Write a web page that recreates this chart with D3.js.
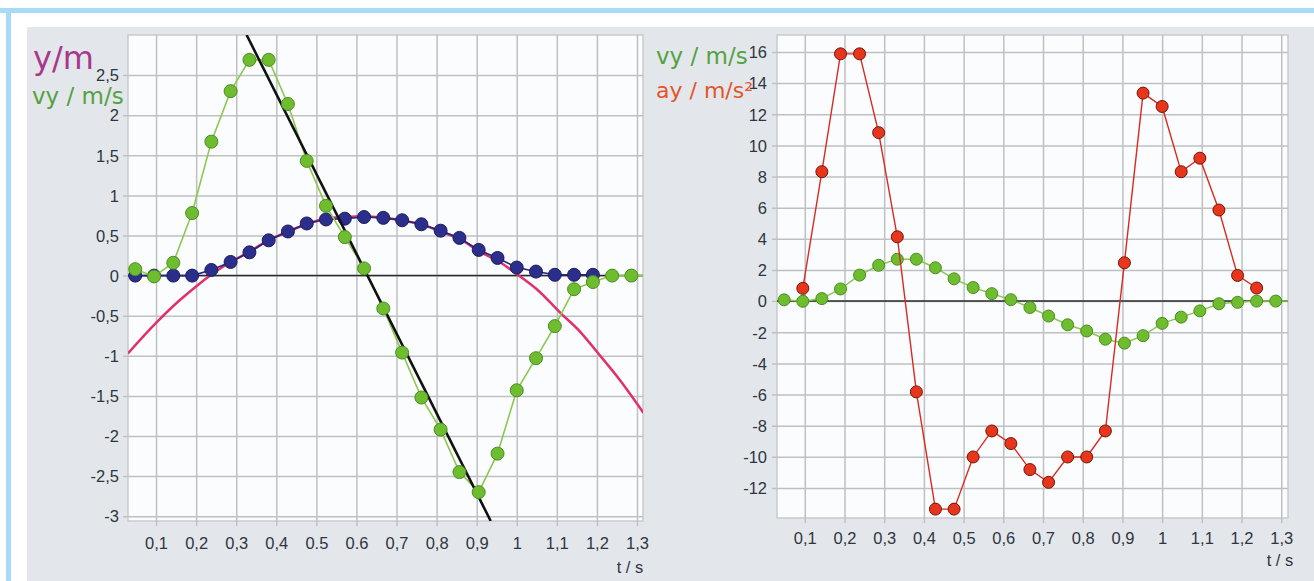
<!DOCTYPE html>
<html lang="de">
<head>
<meta charset="UTF-8">
<title>Ball: y, vy, ay</title>
<script src="https://d3js.org/d3.v7.min.js"></script>
<style>
    body { margin: 0; background: #fff; }
    svg { display: block; }
    .tick text { font-family: "Liberation Sans", Arial, sans-serif; font-size: 16.5px; fill: #2f3540; }
    .title { font-family: "DejaVu Sans", Verdana, sans-serif; }
</style>
</head>
<body>
<script>
// frame times (s) of the measured points
var times = [0.048, 0.095, 0.143, 0.190, 0.238, 0.286, 0.333, 0.381, 0.429, 0.476,
             0.524, 0.571, 0.619, 0.667, 0.714, 0.762, 0.810, 0.857, 0.905, 0.952,
             1.000, 1.048, 1.095, 1.143, 1.190, 1.238, 1.286, 1.333];

// vy / m/s (green, both charts)
var vyValues = [0.08, -0.01, 0.16, 0.78, 1.67, 2.30, 2.69, 2.69, 2.14, 1.43,
                0.87, 0.48, 0.09, -0.41, -0.96, -1.52, -1.92, -2.45, -2.70, -2.22,
                -1.43, -1.03, -0.63, -0.17, -0.08, 0.0, 0.0, 0.0];

// y / m (blue points, left chart)
var yValues = [0, 0, 0, 0, 0.07, 0.17, 0.29, 0.44, 0.55, 0.65,
               0.70, 0.71, 0.73, 0.72, 0.69, 0.64, 0.56, 0.47, 0.32, 0.22,
               0.10, 0.05, 0.01, 0.01, 0.01, null, null, null];

// ay / m/s² (red, right chart)
var ayValues = [null, 0.82, 8.31, 15.88, 15.88, 10.82, 4.13, -5.83, -13.36, -13.36,
                -10.01, -8.34, -9.15, -10.82, -11.64, -10.01, -10.01, -8.34, 2.46, 13.36,
                12.50, 8.31, 9.18, 5.85, 1.65, 0.84, null, null];

// parabola fit of y (pink)
var fitT = [0.03, 0.10, 0.156, 0.20, 0.235, 0.27, 0.33, 0.38, 0.43, 0.48, 0.52, 0.57, 0.62,
            0.67, 0.71, 0.76, 0.81, 0.86, 0.90, 0.96, 1.00, 1.05, 1.11, 1.16, 1.20, 1.26, 1.316];
var fitY = [-0.97, -0.59, -0.32, -0.135, 0.0, 0.12, 0.29, 0.44, 0.55, 0.65, 0.71, 0.73, 0.74,
            0.72, 0.69, 0.64, 0.55, 0.45, 0.32, 0.16, 0.02, -0.17, -0.47, -0.71, -0.95, -1.32, -1.71];

// straight fit of vy (black)
var lineT = [0.326, 0.935];
var lineV = [3.0, -3.06];

var xTicks = [0.1, 0.2, 0.3, 0.4, 0.5, 0.6, 0.7, 0.8, 0.9, 1.0, 1.1, 1.2, 1.3];
var leftXLabels = ["0,1", "0,2", "0,3", "0,4", "0.5", "0.6", "0,7", "0,8", "0,9", "1", "1,1", "1,2", "1,3"];
var rightXLabels = ["0,1", "0,2", "0,3", "0,4", "0,5", "0,6", "0,7", "0,8", "0,9", "1", "1,1", "1,2", "1,3"];

var leftYTicks = [2.5, 2, 1.5, 1, 0.5, 0, -0.5, -1, -1.5, -2, -2.5, -3];
var leftYLabels = ["2,5", "2", "1,5", "1", "0,5", "0", "-0,5", "-1", "-1,5", "-2", "-2,5", "-3"];
var rightYTicks = [16, 14, 12, 10, 8, 6, 4, 2, 0, -2, -4, -6, -8, -10, -12];
var rightYLabels = ["16", "14", "12", "10", "8", "6", "4", "2", "0", "-2", "-4", "-6", "-8", "-10", "-12"];

var width = 1314, height = 581;

var svg = d3.select("body").append("svg")
    .attr("width", width)
    .attr("height", height);

// page frame
svg.append("rect").attr("width", width).attr("height", height).attr("fill", "#fff");
svg.append("rect").attr("x", 0).attr("y", 8).attr("width", width).attr("height", 5).attr("fill", "#a8dcf6");
svg.append("rect").attr("x", 6).attr("y", 8).attr("width", 5).attr("height", height - 8).attr("fill", "#a8dcf6");
svg.append("rect").attr("x", 27).attr("y", 27).attr("width", width - 27).attr("height", height - 27).attr("fill", "#e3e7eb");

// builds one plot area with grid and axes, returns scales and a clipped group
function makePlot(p) {
    var x = d3.scaleLinear().domain(p.xDomain).range([p.left, p.right]);
    var y = d3.scaleLinear().domain(p.yDomain).range([p.bottom, p.top]);
    var h = p.bottom - p.top, w = p.right - p.left;

    svg.append("rect")
        .attr("x", p.left).attr("y", p.top)
        .attr("width", w).attr("height", h)
        .attr("fill", "#fbfcfd")
        .attr("stroke", "#c9cbce").attr("stroke-width", 1.5);

    var xAxis = svg.append("g")
        .attr("transform", "translate(0," + p.bottom + ")")
        .call(d3.axisBottom(x).tickValues(xTicks)
            .tickFormat(function (d, i) { return p.xLabels[i]; })
            .tickSize(-h).tickSizeOuter(0));
    xAxis.select(".domain").remove();
    xAxis.selectAll("line").attr("y1", 5).attr("stroke", "#bfc0c2").attr("stroke-width", 1.5);
    xAxis.selectAll("text").attr("y", p.xLabelOffset).attr("dy", "0.35em");

    var yAxis = svg.append("g")
        .attr("transform", "translate(" + p.left + ",0)")
        .call(d3.axisLeft(y).tickValues(p.yTicks)
            .tickFormat(function (d, i) { return p.yLabels[i]; })
            .tickSize(-w).tickSizeOuter(0));
    yAxis.select(".domain").remove();
    yAxis.selectAll("line").attr("x1", -5).attr("stroke", "#bfc0c2").attr("stroke-width", 1.5);
    yAxis.selectAll("text").attr("x", -p.yLabelGap).attr("dy", "0.35em");

    // zero line
    svg.append("line")
        .attr("x1", p.left).attr("x2", p.right)
        .attr("y1", y(0)).attr("y2", y(0))
        .attr("stroke", "#2a2a2a").attr("stroke-width", 1.5);

    svg.append("clipPath").attr("id", p.id)
        .append("rect").attr("x", p.left).attr("y", p.top).attr("width", w).attr("height", h);

    var g = svg.append("g").attr("clip-path", "url(#" + p.id + ")");

    svg.append("text")
        .attr("x", p.tLabelX).attr("y", p.tLabelY)
        .attr("text-anchor", "middle")
        .style("font-family", "Liberation Sans, Arial, sans-serif")
        .style("font-size", "16.5px").style("fill", "#2f3540")
        .text("t / s");

    return { x: x, y: y, g: g };
}

function series(values) {
    return times.map(function (t, i) { return { t: t, v: values[i] }; })
        .filter(function (d) { return d.v !== null; });
}

function drawSeries(plot, values, lineColor, lineWidth, fill, stroke, r) {
    var data = series(values);
    var line = d3.line()
        .x(function (d) { return plot.x(d.t); })
        .y(function (d) { return plot.y(d.v); });
    plot.g.append("path")
        .attr("d", line(data))
        .attr("fill", "none")
        .attr("stroke", lineColor)
        .attr("stroke-width", lineWidth);
    plot.g.selectAll(null)
        .data(data)
        .enter().append("circle")
        .attr("cx", function (d) { return plot.x(d.t); })
        .attr("cy", function (d) { return plot.y(d.v); })
        .attr("r", r)
        .attr("fill", fill)
        .attr("stroke", stroke)
        .attr("stroke-width", 1);
}

// titles first, tick labels are drawn over them like in the original
svg.append("text").attr("class", "title")
    .attr("x", 33).attr("y", 69)
    .style("font-size", "32px").style("fill", "#a9378c")
    .text("y/m");
svg.append("text").attr("class", "title")
    .attr("x", 32).attr("y", 104)
    .style("font-size", "23px").style("fill", "#52a23f")
    .text("vy / m/s");

svg.append("text").attr("class", "title")
    .attr("x", 656).attr("y", 64)
    .style("font-size", "23px").style("fill", "#52a23f")
    .text("vy / m/s");
svg.append("text").attr("class", "title")
    .attr("x", 656).attr("y", 98)
    .style("font-size", "22px").style("fill", "#e4552c")
    .text("ay / m/s²");

// ---- left chart: y and vy ----
var left = makePlot({
    id: "clipLeft", left: 128, right: 643, top: 35, bottom: 521,
    xDomain: [0.03, 1.315], yDomain: [-3.06, 3.0],
    xLabels: leftXLabels, yTicks: leftYTicks, yLabels: leftYLabels,
    xLabelOffset: 22, yLabelGap: 9, tLabelX: 630, tLabelY: 573
});

var fitLine = d3.line()
    .x(function (d, i) { return left.x(fitT[i]); })
    .y(function (d) { return left.y(d); })
    .curve(d3.curveMonotoneX);

left.g.append("path")
    .attr("d", fitLine(fitY))
    .attr("fill", "none")
    .attr("stroke", "#e0306e")
    .attr("stroke-width", 2.5);

drawSeries(left, yValues, "#23267a", 1.6, "#2b2e8a", "#1b1d5c", 6.5);

var greenL = series(vyValues);
left.g.append("path")
    .attr("d", d3.line()
        .x(function (d) { return left.x(d.t); })
        .y(function (d) { return left.y(d.v); })(greenL))
    .attr("fill", "none").attr("stroke", "#8cc851").attr("stroke-width", 1.6);

left.g.append("path")
    .attr("d", d3.line()
        .x(function (d, i) { return left.x(lineT[i]); })
        .y(function (d) { return left.y(d); })(lineV))
    .attr("fill", "none").attr("stroke", "#111").attr("stroke-width", 2.6);

left.g.selectAll(null)
    .data(greenL)
    .enter().append("circle")
    .attr("cx", function (d) { return left.x(d.t); })
    .attr("cy", function (d) { return left.y(d.v); })
    .attr("r", 6.5)
    .attr("fill", "#6dbd2f")
    .attr("stroke", "#4c8c23")
    .attr("stroke-width", 1);

// ---- right chart: vy and ay ----
var right = makePlot({
    id: "clipRight", left: 777, right: 1288, top: 35, bottom: 518,
    xDomain: [0.03, 1.317], yDomain: [-13.93, 17.09],
    xLabels: rightXLabels, yTicks: rightYTicks, yLabels: rightYLabels,
    xLabelOffset: 20, yLabelGap: 10, tLabelX: 1280, tLabelY: 566
});

drawSeries(right, vyValues, "#8cc851", 1.5, "#6dbd2f", "#4c8c23", 6);
drawSeries(right, ayValues, "#d92a22", 1.4, "#e8361d", "#6e150b", 6);
</script>
</body>
</html>
